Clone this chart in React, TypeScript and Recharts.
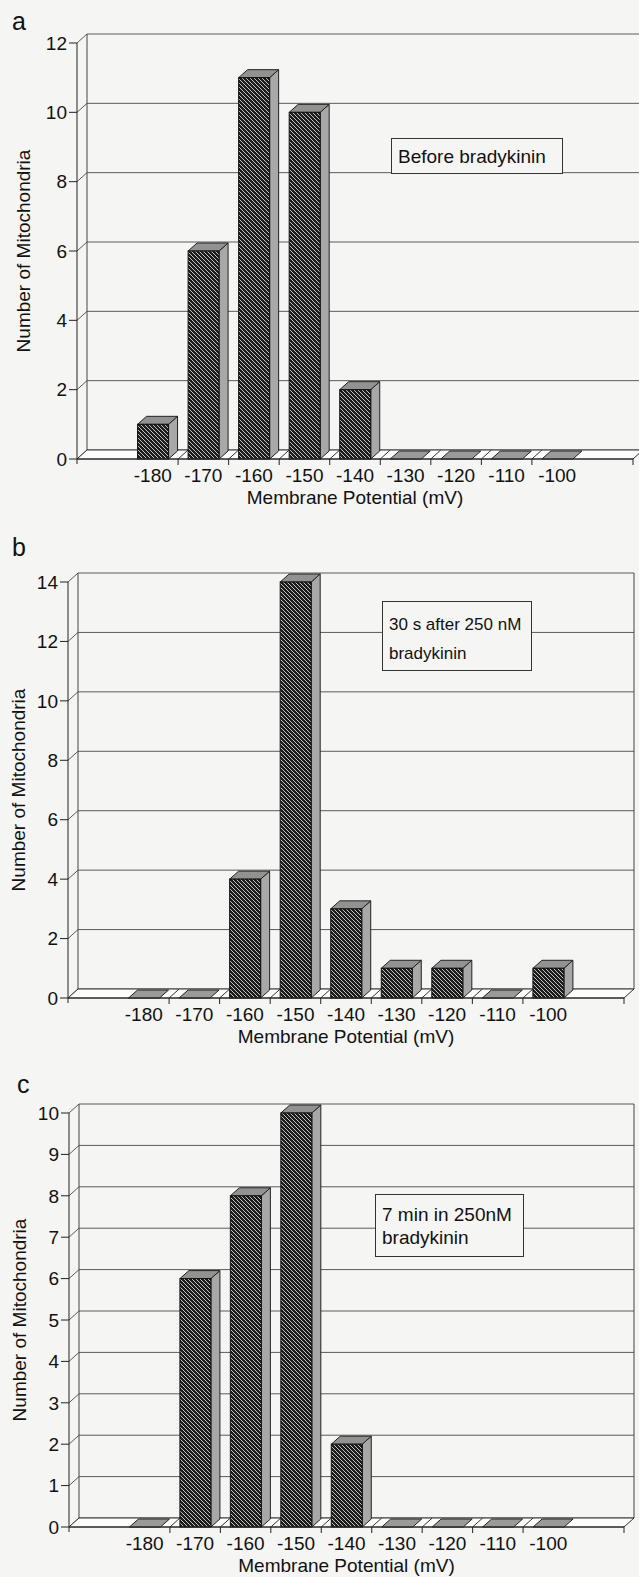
import React from 'react';
import { BarChart, Bar, XAxis, YAxis, CartesianGrid, ReferenceArea } from 'recharts';

// ---- data ----
const potentials = ['-180', '-170', '-160', '-150', '-140', '-130', '-120', '-110', '-100'];
const countsBefore = [1, 6, 11, 10, 2, 0, 0, 0, 0];
const counts30s = [0, 0, 4, 14, 3, 1, 1, 0, 1];
const counts7min = [0, 6, 8, 10, 2, 0, 0, 0, 0];
const ticksA = [0, 2, 4, 6, 8, 10, 12];
const ticksB = [0, 2, 4, 6, 8, 10, 12, 14];
const ticksC = [0, 1, 2, 3, 4, 5, 6, 7, 8, 9, 10];
const xTitle = 'Membrane Potential (mV)';
const yTitle = 'Number of Mitochondria';
const notes = ['Before bradykinin', '30 s after 250 nM\nbradykinin', '7 min in 250nM\nbradykinin'];
const panelLetters = ['a', 'b', 'c'];

const FONT = '"Liberation Sans", Arial, Helvetica, sans-serif';
const BG = '#f5f5f3';
const DX = 10;
const DY = 9;
const BDX = 9;
const BDY = 8;
const XH = 30;
const YW = 60;
const NCAT = potentials.length + 2;

function buildData(values: number[]) {
  return [
    { cat: '', value: null as number | null },
    ...potentials.map((p, i) => ({ cat: p, value: values[i] as number | null })),
    { cat: ' ', value: null as number | null },
  ];
}

const Bar3D = (props: any) => {
  const { x, y, width, height, payload } = props;
  if (!payload || payload.value == null || x == null) return <g />;
  const w = width;
  const h = height || 0;
  const top = `M${x},${y} L${x + BDX},${y - BDY} L${x + w + BDX},${y - BDY} L${x + w},${y} Z`;
  if (h <= 0.5) {
    return <path d={top} fill="#9a9a9a" stroke="#222" strokeWidth={1} />;
  }
  const side = `M${x + w},${y} L${x + w + BDX},${y - BDY} L${x + w + BDX},${y + h - BDY} L${x + w},${y + h} Z`;
  return (
    <g>
      <path d={side} fill="#a8a8a8" stroke="#222" strokeWidth={1} />
      <path d={top} fill="#929292" stroke="#222" strokeWidth={1} />
      <rect x={x} y={y} width={w} height={h} fill="url(#hatch)" stroke="#111" strokeWidth={1} />
    </g>
  );
};

const gridLine = (p: any) => {
  const { x1, y1, x2 } = p;
  return (
    <path
      key={p.key}
      d={`M${x1},${y1} L${x1 + DX},${y1 - DY} L${x2 + DX},${y1 - DY}`}
      fill="none"
      stroke="#5a5a5a"
      strokeWidth={1}
    />
  );
};

const frameShape = (p: any) => {
  const { x, y, width: w, height: h } = p;
  const yb = y + h;
  const bw = w / NCAT;
  const lines = [];
  for (let i = 2; i <= NCAT - 2; i++) {
    const bx = x + i * bw;
    lines.push(<line key={i} x1={bx} y1={yb} x2={bx + DX} y2={yb - DY} stroke="#333" strokeWidth={1} />);
  }
  const floor = `M${x},${yb} L${x + w},${yb} L${x + w + DX},${yb - DY} L${x + DX},${yb - DY} Z`;
  return (
    <g>
      <path d={`M${x + DX},${y - DY} L${x + DX},${yb - DY}`} stroke="#444" strokeWidth={1} />
      <path d={`M${x + w + DX},${y - DY} L${x + w + DX},${yb - DY}`} stroke="#444" strokeWidth={1} />
      <path d={`M${x},${yb} L${x},${yb + 5}`} stroke="#222" strokeWidth={1} />
      <path d={floor} fill="#fcfcfc" stroke="#333" strokeWidth={1} />
      {lines}
    </g>
  );
};

const makeXTick = (bw: number) => (p: any) => {
  const { x, y, payload, index } = p;
  const v = String(payload.value).trim();
  return (
    <g>
      {index >= 2 && index <= NCAT - 2 ? (
        <line x1={x - bw / 2} y1={y} x2={x - bw / 2} y2={y + 6} stroke="#222" strokeWidth={1} />
      ) : null}
      {index === NCAT - 1 ? (
        <line x1={x + bw / 2} y1={y} x2={x + bw / 2} y2={y + 6} stroke="#222" strokeWidth={1} />
      ) : null}
      {v ? (
        <text x={x} y={y + 16} dy="0.36em" textAnchor="middle" fontSize={19} fill="#111" fontFamily={FONT}>
          {v}
        </text>
      ) : null}
    </g>
  );
};

const makeYLabel = (gap: number) => (p: any) => {
  const vb = p.viewBox || {};
  const cx = vb.x + vb.width - gap;
  const cy = vb.y + vb.height / 2;
  return (
    <text
      x={cx}
      y={cy}
      transform={`rotate(-90 ${cx} ${cy})`}
      textAnchor="middle"
      fontSize={19}
      fill="#111"
      fontFamily={FONT}
    >
      {yTitle}
    </text>
  );
};

const xLabel = (p: any) => {
  const vb = p.viewBox || {};
  const cx = vb.x + vb.width / 2;
  const cy = vb.y + 38;
  return (
    <text x={cx} y={cy} dy="0.36em" textAnchor="middle" fontSize={19} fill="#111" fontFamily={FONT}>
      {xTitle}
    </text>
  );
};

type Cfg = {
  top: number;
  height: number;
  plotLeft: number;
  plotRight: number;
  plotTop: number;
  plotBottom: number;
  yMax: number;
  ticks: number[];
  values: number[];
  note: string;
  noteBox: { left: number; top: number; width: number; height: number; fontSize: number; lineHeight: number; padTop: number };
  letter: string;
  letterPos: { left: number; baseline: number };
  yGap: number;
};

const panels: Cfg[] = [
  {
    top: 0, height: 510, plotLeft: 77, plotRight: 633, plotTop: 43, plotBottom: 459,
    yMax: 12, ticks: ticksA, values: countsBefore, note: notes[0],
    noteBox: { left: 391, top: 138, width: 172, height: 36, fontSize: 19, lineHeight: 23, padTop: 6 },
    letter: panelLetters[0], letterPos: { left: 12, baseline: 29 }, yGap: 47,
  },
  {
    top: 515, height: 535, plotLeft: 68, plotRight: 624, plotTop: 582, plotBottom: 998,
    yMax: 14, ticks: ticksB, values: counts30s, note: notes[1],
    noteBox: { left: 382, top: 601, width: 150, height: 70, fontSize: 17, lineHeight: 29, padTop: 8 },
    letter: panelLetters[1], letterPos: { left: 12, baseline: 555 }, yGap: 43,
  },
  {
    top: 1055, height: 522, plotLeft: 69, plotRight: 624, plotTop: 1113, plotBottom: 1527,
    yMax: 10, ticks: ticksC, values: counts7min, note: notes[2],
    noteBox: { left: 375, top: 1194, width: 149, height: 63, fontSize: 19, lineHeight: 23, padTop: 8 },
    letter: panelLetters[2], letterPos: { left: 17, baseline: 1092 }, yGap: 43,
  },
];

function Panel({ cfg }: { cfg: Cfg }) {
  const W = 639;
  const data = buildData(cfg.values);
  const margin = {
    top: cfg.plotTop - cfg.top,
    right: W - cfg.plotRight,
    bottom: cfg.top + cfg.height - cfg.plotBottom - XH,
    left: cfg.plotLeft - YW,
  };
  const bw = (cfg.plotRight - cfg.plotLeft) / NCAT;
  const nb = cfg.noteBox;
  return (
    <>
      <div style={{ position: 'absolute', left: 0, top: cfg.top, width: W, height: cfg.height }}>
        <BarChart width={W} height={cfg.height} data={data} margin={margin} barCategoryGap={0}>
          <CartesianGrid horizontal={gridLine} vertical={false} />
          <ReferenceArea y1={0} y2={cfg.yMax} shape={frameShape} ifOverflow="visible" />
          <Bar dataKey="value" barSize={31} shape={Bar3D} isAnimationActive={false} />
          <XAxis
            dataKey="cat"
            height={XH}
            interval={0}
            tickLine={false}
            tickSize={0}
            tickMargin={0}
            axisLine={{ stroke: '#222', strokeWidth: 1 }}
            tick={makeXTick(bw)}
            label={xLabel}
          />
          <YAxis
            width={YW}
            domain={[0, cfg.yMax]}
            ticks={cfg.ticks}
            interval={0}
            allowDecimals={false}
            tickSize={8}
            tickMargin={2}
            axisLine={{ stroke: '#222', strokeWidth: 1 }}
            tickLine={{ stroke: '#222', strokeWidth: 1 }}
            tick={{ fontSize: 19, fill: '#111', fontFamily: FONT }}
            label={makeYLabel(cfg.yGap)}
          />
        </BarChart>
      </div>
      <div
        style={{
          position: 'absolute',
          left: nb.left,
          top: nb.top,
          width: nb.width,
          height: nb.height,
          boxSizing: 'border-box',
          border: '1px solid #333',
          background: BG,
          fontFamily: FONT,
          fontSize: nb.fontSize,
          lineHeight: `${nb.lineHeight}px`,
          color: '#111',
          padding: `${nb.padTop}px 6px 0 6px`,
          whiteSpace: 'pre-line',
        }}
      >
        {cfg.note}
      </div>
      <div
        style={{
          position: 'absolute',
          left: cfg.letterPos.left,
          top: cfg.letterPos.baseline - 22,
          fontFamily: FONT,
          fontSize: 25,
          lineHeight: '28px',
          color: '#111',
        }}
      >
        {cfg.letter}
      </div>
    </>
  );
}

export default function App() {
  return (
    <div style={{ position: 'absolute', left: 0, top: 0, width: 639, height: 1577, background: BG, overflow: 'hidden' }}>
      <svg width={0} height={0} style={{ position: 'absolute' }}>
        <defs>
          <pattern id="hatch" patternUnits="userSpaceOnUse" width={4} height={4}>
            <rect width={4} height={4} fill="#1c1c1c" />
            <path d="M-1,-1 L5,5 M-1,3 L1,5 M3,-1 L5,1" stroke="#c4c4c4" strokeWidth={1} />
          </pattern>
        </defs>
      </svg>
      {panels.map((c, i) => (
        <Panel key={i} cfg={c} />
      ))}
    </div>
  );
}
